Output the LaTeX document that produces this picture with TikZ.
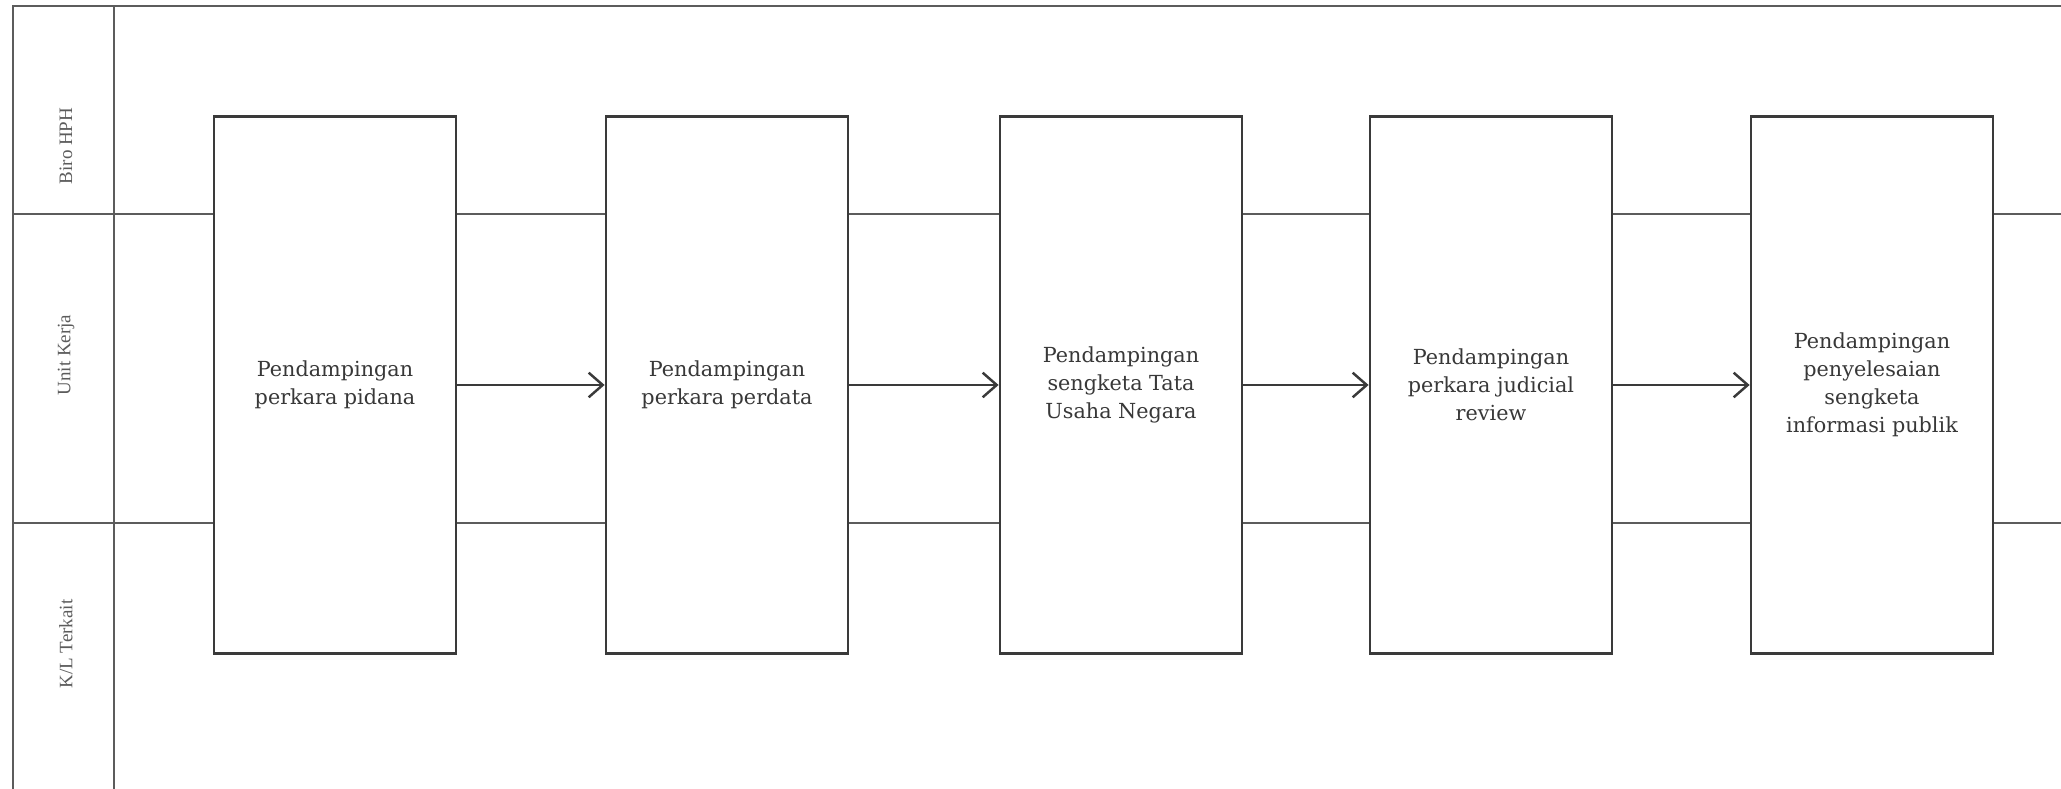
\documentclass[tikz,border=0pt]{standalone}
\usepackage{fontspec}
\newfontfamily\boxfont{DejaVu Serif}
\newfontfamily\lanefont{Liberation Serif}
\usetikzlibrary{positioning,arrows.meta}
\definecolor{ln}{HTML}{3A3A3A}
\definecolor{frm}{HTML}{5C5C5C}
\definecolor{txt}{HTML}{383838}
\tikzset{
  stepbox/.style={draw=ln,fill=white,line width=0.8pt,minimum width=2.42cm,minimum height=5.37cm,inner sep=0pt,align=center,font=\boxfont\fontsize{5.9}{8}\selectfont,text=txt},
  lane/.style={draw=frm,line width=0.8pt},
  lanelbl/.style={rotate=90,font=\lanefont\fontsize{5.4}{6.4}\selectfont,text=frm},
  arr/.style={-{Straight Barb[length=4pt,width=7pt]},line width=0.7pt,ln},
}
\begin{document}
\begin{tikzpicture}
\useasboundingbox (0,0) rectangle (20.61,-7.89);
\fill[white] (0,0) rectangle (20.61,-7.89);
% swimlanes
\draw[lane] (20.61,-0.06) -- (0.13,-0.06) -- (0.13,-7.89);
\draw[lane] (1.14,-0.06) -- (1.14,-7.89);
\draw[lane] (0.13,-2.14) -- (20.61,-2.14);
\draw[lane] (0.13,-5.23) -- (20.61,-5.23);
\node[lanelbl] (l1) at (0.66,-1.46) {Biro HPH};
\node[lanelbl] (l2) at (0.66,-3.55) {Unit Kerja};
\node[lanelbl] (l3) at (0.66,-6.44) {K/L Terkait};
% steps
\node[stepbox] (b1) at (3.35,-3.85) {Pendampingan\\perkara pidana};
\node[stepbox] (b2) at (7.27,-3.85) {Pendampingan\\perkara perdata};
\node[stepbox] (b3) at (11.21,-3.85) {Pendampingan\\sengketa Tata\\Usaha Negara};
\node[stepbox] (b4) at (14.91,-3.85) {Pendampingan\\perkara judicial\\review};
\node[stepbox] (b5) at (18.72,-3.85) {Pendampingan\\penyelesaian\\sengketa\\informasi publik};
\draw[arr] (b1) -- (b2); \draw[arr] (b2) -- (b3); \draw[arr] (b3) -- (b4); \draw[arr] (b4) -- (b5);
\end{tikzpicture}
\end{document}
